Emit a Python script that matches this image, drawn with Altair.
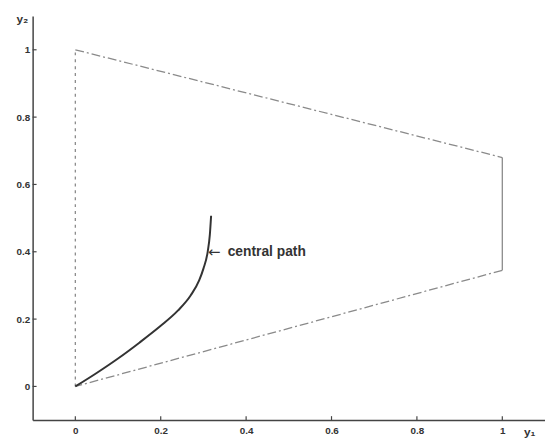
import altair as alt
import pandas as pd

# Feasible-region vertices (y1, y2)
vert_y1 = [0.0, 0.0, 1.0, 1.0]
vert_y2 = [0.0, 1.0, 0.68, 0.345]

# Central path points (y1, y2)
path_y1 = [0.0, 0.05, 0.10, 0.15, 0.20, 0.24, 0.27, 0.29, 0.30, 0.31, 0.315, 0.318]
path_y2 = [0.0, 0.04, 0.083, 0.13, 0.18, 0.225, 0.27, 0.315, 0.35, 0.40, 0.45, 0.507]

tick_vals = [0, 0.2, 0.4, 0.6, 0.8, 1]

W, H = 520, 410
xs = alt.Scale(domain=[-0.1, 1.1], nice=False, zero=False)
ys = alt.Scale(domain=[-0.1, 1.1], nice=False, zero=False)

x_axis = alt.Axis(values=tick_vals, format="~g", title="y\u2081", titleAngle=0,
                  titleX=504, titleY=7, titleBaseline="top", titleAlign="center",
                  titleFont="Liberation Sans", titleFontSize=12, titleFontWeight="bold",
                  titleColor="#333", labelPadding=6)
y_axis = alt.Axis(values=tick_vals, format="~g", title="y\u2082", titleAngle=0,
                  titleX=-11, titleY=-3, titleBaseline="top", titleAlign="center",
                  titleFont="Liberation Sans", titleFontSize=12, titleFontWeight="bold",
                  titleColor="#333", labelPadding=3)

X = alt.X("y1:Q", scale=xs, axis=x_axis)
Y = alt.Y("y2:Q", scale=ys, axis=y_axis)


def seg(i, j):
    return pd.DataFrame({"y1": [vert_y1[i], vert_y1[j]], "y2": [vert_y2[i], vert_y2[j]], "o": [0, 1]})


def edge(i, j, dash):
    kw = {"color": "#8a8a8a", "strokeWidth": 1.3}
    if dash:
        kw["strokeDash"] = dash
    return alt.Chart(seg(i, j)).mark_line(**kw).encode(x=X, y=Y, order="o:Q")


left = edge(0, 1, [3, 4])
top = edge(1, 2, [9, 3, 2, 3])
right = edge(2, 3, None)
bottom = edge(3, 0, [9, 3, 2, 3])

path_df = pd.DataFrame({"y1": path_y1, "y2": path_y2, "o": list(range(len(path_y1)))})
path = alt.Chart(path_df).mark_line(color="#333333", strokeWidth=2, interpolate="monotone").encode(
    x=X, y=Y, order="o:Q")

label_df = pd.DataFrame({"y1": [0.313], "y2": [0.40], "t": ["central path"], "a": ["\u2190"]})
arrow = alt.Chart(label_df).mark_text(align="left", baseline="middle", font="DejaVu Sans",
                                      fontSize=15, color="#333", dx=-1).encode(
    x=X, y=Y, text="a:N")
label = alt.Chart(label_df).mark_text(align="left", baseline="middle", font="Liberation Sans",
                                      fontSize=14, fontWeight="bold", color="#333", dx=19).encode(
    x=X, y=Y, text="t:N")

tick_df = pd.DataFrame({"y1": tick_vals, "y2": tick_vals})
xticks = alt.Chart(tick_df).mark_rule(color="#444", strokeWidth=1.2).encode(
    x=X, y=alt.value(H), y2=alt.value(H - 4))
yticks = alt.Chart(tick_df).mark_rule(color="#444", strokeWidth=1.2).encode(
    y=Y, x=alt.value(0), x2=alt.value(4))

chart = alt.layer(left, top, right, bottom, path, arrow, label, xticks, yticks).properties(
    width=W, height=H,
    autosize=alt.AutoSizeParams(type="none"),
    padding={"left": 25, "top": 5, "right": 0, "bottom": 20},
).configure_view(stroke=None).configure_axis(
    grid=False, ticks=False, domainColor="#444", domainWidth=1.5,
    labelFont="Liberation Sans", labelFontSize=10, labelFontWeight="bold", labelColor="#333",
)

chart.save("out.html", embed_options={"renderer": "svg", "actions": False})
